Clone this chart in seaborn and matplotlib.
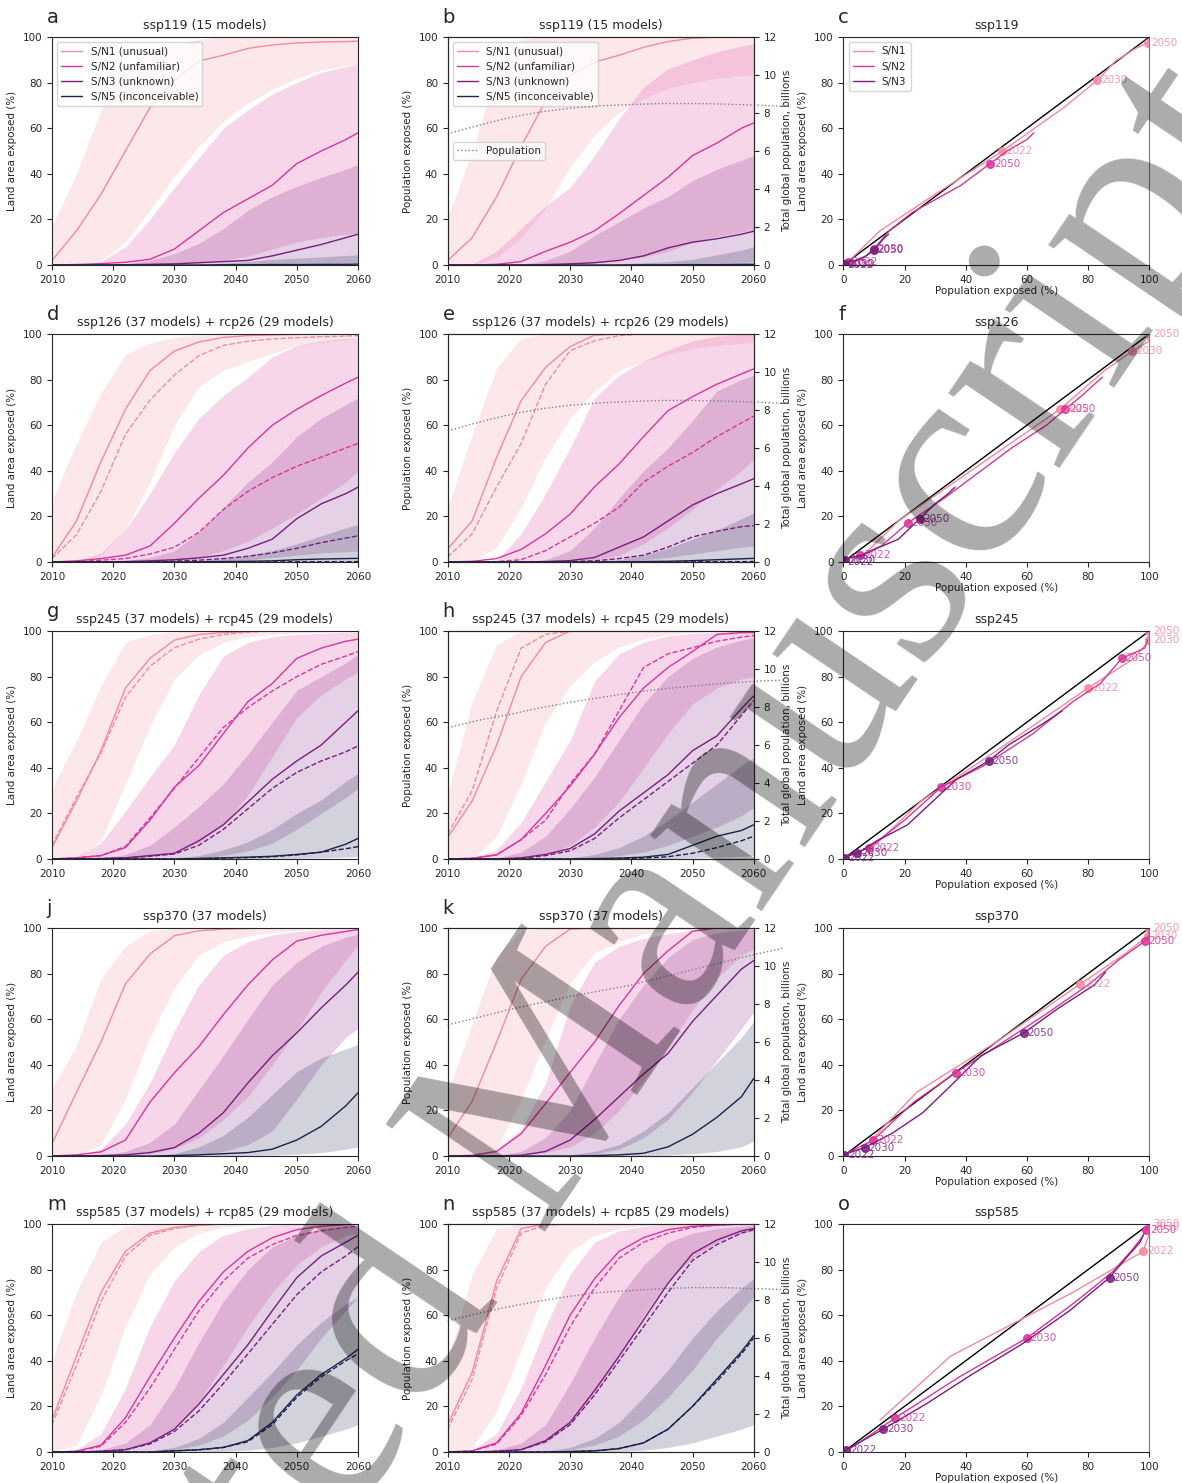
import numpy as np
import pandas as pd
import seaborn as sns
import matplotlib.pyplot as plt
from matplotlib.lines import Line2D

sns.set_style("ticks")
plt.rcParams["font.family"] = ["DejaVu Sans"]
plt.rcParams["font.size"] = 7.5
plt.rcParams["axes.titlesize"] = 9
plt.rcParams["axes.labelsize"] = 7.5
plt.rcParams["xtick.labelsize"] = 7.5
plt.rcParams["ytick.labelsize"] = 7.5
plt.rcParams["legend.fontsize"] = 7.5

years = [2010, 2014, 2018, 2022, 2026, 2030, 2034, 2038, 2042, 2046, 2050, 2054, 2058, 2060]
sn_names = ["S/N1 (unusual)", "S/N2 (unfamiliar)", "S/N3 (unknown)", "S/N5 (inconceivable)"]
sn_short = ["S/N1", "S/N2", "S/N3"]
sn_colors = ["#f4899f", "#d9359a", "#7a1c7f", "#1d1f4f"]
mark_years = [2022, 2030, 2050]

# total population (billions) per SSP
pop_years = [2010, 2015, 2020, 2025, 2030, 2035, 2040, 2045, 2050, 2055, 2060, 2065]
pop_ssp1 = [6.9, 7.35, 7.75, 8.05, 8.25, 8.38, 8.45, 8.5, 8.5, 8.47, 8.42, 8.35]
pop_ssp2 = [6.9, 7.3, 7.6, 7.95, 8.25, 8.5, 8.75, 8.95, 9.1, 9.25, 9.35, 9.42]
pop_ssp3 = [6.9, 7.3, 7.7, 8.05, 8.4, 8.7, 9.0, 9.4, 9.8, 10.2, 10.6, 10.95]
pop_ssp5 = [6.9, 7.3, 7.65, 7.95, 8.2, 8.4, 8.5, 8.6, 8.65, 8.65, 8.6, 8.55]

# ---- ssp119 ----
land_119_med = [[2, 15, 31, 50, 69, 81, 89.5, 92, 95, 96.5, 97.4, 97.8, 98, 98.2],
                [0, 0.2, 0.6, 1.2, 2.5, 7, 15, 23, 29, 35, 44.5, 50, 55, 58],
                [0, 0, 0, 0.1, 0.3, 0.5, 1, 1.5, 2, 4, 6.5, 9, 12, 13.5],
                [0, 0, 0, 0, 0, 0, 0, 0.1, 0.1, 0.2, 0.2, 0.3, 0.3, 0.4]]
land_119_lo = [[0, 0, 2, 10, 24, 39, 52, 63, 71, 77, 82, 85.5, 87.5, 88],
               [0, 0, 0, 0, 0, 0.3, 1, 2, 4, 7, 10, 12, 13.5, 14],
               [0, 0, 0, 0, 0, 0, 0, 0, 0.2, 0.5, 0.8, 1, 1, 1.2],
               [0, 0, 0, 0, 0, 0, 0, 0, 0, 0, 0, 0, 0, 0]]
land_119_hi = [[17, 40, 68, 87, 94, 97, 99, 100, 100, 100, 100, 100, 100, 100],
               [0, 0, 1.5, 8, 20, 34, 47, 60, 68, 75, 80, 84.5, 87, 88],
               [0, 0, 0, 0.5, 2, 5, 9.5, 16, 24, 30, 34.5, 38.5, 42, 44],
               [0, 0, 0, 0, 0, 0, 0.3, 0.8, 1.5, 2.5, 3, 3.5, 4.2, 4.5]]
pop_119_med = [[2, 12, 30, 52, 72, 83, 89, 92, 95.5, 98, 99.5, 100, 100, 100],
               [0, 0, 0.3, 1.5, 6, 10, 15, 22.5, 30.5, 38.5, 48, 53.5, 60, 62.3],
               [0, 0, 0, 0, 0.2, 0.5, 1, 2, 4, 7.5, 10, 11.5, 13.5, 14.8],
               [0, 0, 0, 0, 0, 0, 0, 0, 0.1, 0.1, 0.2, 0.2, 0.3, 0.3]]
pop_119_lo = [[0, 0, 3, 12, 25, 43, 57, 67, 73, 77.5, 80, 82, 83, 83],
              [0, 0, 0, 0, 0, 0.3, 1, 2, 3.5, 6, 10, 12.5, 14.5, 15.5],
              [0, 0, 0, 0, 0, 0, 0, 0, 0.2, 0.5, 0.8, 1, 1.2, 1.5],
              [0, 0, 0, 0, 0, 0, 0, 0, 0, 0, 0, 0, 0, 0]]
pop_119_hi = [[21, 50, 85, 99, 100, 100, 100, 100, 100, 100, 100, 100, 100, 100],
              [0, 0.5, 6, 16, 26, 34, 48, 64, 78, 86, 90, 93.5, 96, 97],
              [0, 0, 0, 0.3, 2, 6, 13, 19, 25, 30, 37, 42, 46, 48],
              [0, 0, 0, 0, 0, 0, 0.2, 0.5, 1, 1.5, 2.5, 4.5, 6.5, 8]]

# ---- ssp126 / rcp26 ----
land_126_med = [[2, 18, 44, 67, 84, 92.5, 96.5, 98.5, 99.3, 99.6, 99.8, 100, 100, 100],
                [0, 0.5, 1.5, 3, 7, 17, 28, 38, 50, 60, 67, 73, 78.5, 81],
                [0, 0, 0, 0.2, 0.5, 1, 1.8, 3, 6, 10, 19, 25.5, 30, 32.8],
                [0, 0, 0, 0, 0, 0, 0.1, 0.2, 0.3, 0.5, 1, 1.3, 1.5, 1.6]]
land_126_rcp = [[1.5, 12, 31, 56, 71, 82, 90.5, 95, 96.8, 97.8, 98.4, 98.8, 99.1, 99.3],
                [0, 0.2, 0.8, 1.5, 3.5, 6.5, 13, 23, 31, 37, 42, 46, 50, 52],
                [0, 0, 0, 0, 0.2, 0.4, 0.8, 1.5, 2.5, 4, 6, 8.5, 10.5, 11.5],
                [0, 0, 0, 0, 0, 0, 0, 0, 0, 0, 0.1, 0.1, 0.1, 0.2]]
land_126_lo = [[0, 0, 3, 14, 35, 60, 77, 84, 88, 91.5, 95, 96.5, 97.5, 98],
               [0, 0, 0, 0, 0, 0.5, 2, 5, 9, 15, 21, 28, 35, 40],
               [0, 0, 0, 0, 0, 0, 0, 0.5, 1, 2, 3, 4, 4.5, 4.8],
               [0, 0, 0, 0, 0, 0, 0, 0, 0, 0, 0, 0, 0, 0]]
land_126_hi = [[27, 52, 74, 91, 96, 98.5, 99.5, 100, 100, 100, 100, 100, 100, 100],
               [0, 0.5, 4, 14, 30, 48, 63, 73, 81, 90, 95, 97, 98, 98],
               [0, 0, 0, 0.5, 2, 5, 13, 24, 35, 44, 55, 63, 69, 72],
               [0, 0, 0, 0, 0, 0, 0.5, 1.5, 3, 5, 8, 11.5, 15, 16.5]]
pop_126_med = [[5.8, 18, 46, 70.8, 85.4, 94.5, 99.5, 100, 100, 100, 100, 100, 100, 100],
               [0, 0.3, 1.5, 5.5, 12.4, 21, 33, 43, 55, 66.4, 72.5, 78, 82.5, 84.7],
               [0, 0, 0, 0, 0.2, 0.6, 2, 6.5, 11, 18, 25, 30, 34.3, 36.5],
               [0, 0, 0, 0, 0, 0, 0, 0.1, 0.2, 0.3, 0.6, 1, 1.4, 1.6]]
pop_126_rcp = [[2.2, 12.4, 33, 52, 78, 92.7, 97, 99.3, 100, 100, 100, 100, 100, 100],
               [0, 0, 0.2, 1, 5, 11, 17, 24, 35, 42, 48, 55, 61, 64],
               [0, 0, 0, 0, 0, 0.2, 0.5, 1.5, 3, 6.5, 11, 13.5, 15.5, 16],
               [0, 0, 0, 0, 0, 0, 0, 0, 0, 0, 0.1, 0.1, 0.1, 0.2]]
pop_126_lo = [[0, 0, 6.5, 24, 46, 63, 75, 84, 88, 91, 93.5, 95, 96, 96.5],
              [0, 0, 0, 0, 0, 0, 1, 3, 8, 15, 23, 32, 40, 45],
              [0, 0, 0, 0, 0, 0, 0, 0.3, 1, 2, 3.5, 5, 6.5, 7],
              [0, 0, 0, 0, 0, 0, 0, 0, 0, 0, 0, 0, 0, 0]]
pop_126_hi = [[24, 56, 85, 98, 100, 100, 100, 100, 100, 100, 100, 100, 100, 100],
              [0, 0, 0.7, 12.4, 30, 50, 72, 82, 88, 93, 97, 99, 100, 100],
              [0, 0, 0, 0, 1, 5, 15, 28, 40, 50, 62, 75, 80, 82],
              [0, 0, 0, 0, 0, 0, 0.5, 1, 3, 6, 10, 14, 19, 21.5]]

# ---- ssp245 / rcp45 ----
land_245_med = [[5, 25.5, 47.4, 75, 88, 96, 98.5, 99.3, 99.7, 100, 100, 100, 100, 100],
                [0, 0.5, 1.5, 5, 17, 31.5, 41, 55, 69, 77, 88, 92.5, 95.5, 96.4],
                [0, 0, 0.2, 0.5, 1.5, 2.5, 8, 15, 25, 35, 43, 50, 60, 65],
                [0, 0, 0, 0, 0, 0, 0.2, 0.5, 0.8, 1.2, 2, 3, 6.5, 9]]
land_245_rcp = [[6, 27, 46.5, 71, 84.5, 92.7, 96.4, 98.5, 99.5, 100, 100, 100, 100, 100],
                [0, 0.5, 1.5, 5.5, 18, 31, 44.5, 57.7, 66.4, 73.7, 80, 85.4, 89, 91],
                [0, 0, 0.2, 0.5, 1.2, 2.2, 6, 13, 22, 31, 38, 43, 47, 49.6],
                [0, 0, 0, 0, 0, 0, 0.2, 0.4, 0.6, 1, 1.8, 3, 4.5, 5.4]]
land_245_lo = [[0, 0, 8, 33, 58, 79, 89.5, 95, 97.5, 98.5, 99, 99.5, 99.8, 100],
               [0, 0, 0, 0.3, 1, 3, 7, 15, 28, 45, 62, 72, 79, 82],
               [0, 0, 0, 0, 0, 0, 0.5, 1.5, 3.5, 7, 13, 20, 27, 31],
               [0, 0, 0, 0, 0, 0, 0, 0, 0, 0.2, 0.3, 0.5, 0.8, 1]]
land_245_hi = [[31, 52, 76, 95, 98.5, 99.5, 100, 100, 100, 100, 100, 100, 100, 100],
               [0, 1, 7, 21, 36, 50, 72, 89, 95, 97.5, 98.5, 99, 99.5, 99.5],
               [0, 0, 0.5, 2, 6, 14, 23, 33, 46, 60, 74, 80, 86, 89.8],
               [0, 0, 0, 0, 0, 0.5, 1.5, 4, 7.5, 13, 20, 26, 34, 37.5]]
pop_245_med = [[9.5, 25.5, 50, 80, 95, 100, 100, 100, 100, 100, 100, 100, 100, 100],
               [0, 0.3, 1.8, 8.5, 20, 32, 46, 62, 75, 84, 91, 98.5, 99.3, 99.3],
               [0, 0, 0, 0.5, 2, 4.6, 11, 21, 29, 37, 47.5, 54, 66, 71.5],
               [0, 0, 0, 0, 0, 0, 0.2, 0.4, 0.8, 2, 6, 10, 12.5, 15]]
pop_245_rcp = [[11, 30, 65, 92.5, 98.5, 100, 100, 100, 100, 100, 100, 100, 100, 100],
               [0, 0.3, 1.8, 8.5, 17, 33, 46, 65, 84, 90, 92.7, 95.5, 97.3, 98],
               [0, 0, 0, 0.3, 1.5, 3.6, 9, 18, 26, 34, 42, 50, 63, 69.5],
               [0, 0, 0, 0, 0, 0, 0.1, 0.2, 0.4, 1, 2.5, 5, 8, 10]]
pop_245_lo = [[0, 0, 10, 33, 60, 76, 86.5, 93, 96.5, 98.5, 99.5, 100, 100, 100],
              [0, 0, 0, 0.3, 2, 6, 14, 25, 40, 55, 68, 75, 79, 80],
              [0, 0, 0, 0, 0, 0, 0.5, 1.5, 3, 6, 10, 14, 19, 22.6],
              [0, 0, 0, 0, 0, 0, 0, 0, 0, 0.2, 0.5, 0.8, 1.2, 1.5]]
pop_245_hi = [[28.5, 69, 94, 100, 100, 100, 100, 100, 100, 100, 100, 100, 100, 100],
              [0, 0.5, 4, 16, 34, 52, 78, 90, 95, 98, 99, 99.5, 100, 100],
              [0, 0, 0.5, 3, 10, 22, 36, 52, 68, 80, 88, 93, 96, 97],
              [0, 0, 0, 0, 0, 0.5, 2, 5, 10, 17, 25, 33, 41, 44.5]]

# ---- ssp370 ----
land_370_med = [[5.4, 28, 50, 75.5, 88.6, 96.6, 98.8, 99.5, 99.8, 100, 100, 100, 100, 100],
                [0, 0.5, 1.8, 7, 23.6, 36.5, 48, 62, 75, 86, 94.3, 96.8, 98.5, 99.3],
                [0, 0, 0.2, 0.5, 1.5, 3.7, 10, 19, 32, 44, 54, 65, 75, 80.6],
                [0, 0, 0, 0, 0, 0.2, 0.5, 1, 1.5, 3, 7, 13, 22, 27.7]]
land_370_lo = [[0, 0, 5, 25, 52, 74, 88, 94, 96.5, 98, 99, 99.5, 100, 100],
               [0, 0, 0, 0.3, 1, 3, 8, 16, 26, 40, 55, 72, 86, 92.3],
               [0, 0, 0, 0, 0, 0, 0.5, 2, 5, 11, 25, 40, 52, 56],
               [0, 0, 0, 0, 0, 0, 0, 0, 0.2, 0.4, 0.8, 1.5, 3, 4]]
land_370_hi = [[29.5, 48.5, 77.6, 92, 98.8, 99.8, 100, 100, 100, 100, 100, 100, 100, 100],
               [0, 0.5, 3, 14, 32, 55, 75, 88, 94, 97, 98.5, 99.3, 99.7, 100],
               [0, 0, 0.3, 2, 6, 14, 29, 44, 60, 75, 85, 92, 96, 97.2],
               [0, 0, 0, 0, 0.2, 1, 4, 9, 17, 27, 37, 43, 47, 49]]
pop_370_med = [[8, 24, 50, 77.5, 92, 99.5, 100, 100, 100, 100, 100, 100, 100, 100],
               [0, 0.3, 2, 9.8, 23, 36.7, 50, 66, 80, 90, 98.6, 100, 100, 100],
               [0, 0, 0, 0.3, 2, 7, 16, 26, 36, 45, 59, 70.5, 82, 85.7],
               [0, 0, 0, 0, 0, 0, 0.2, 0.5, 1.2, 4, 9.5, 17, 26, 34]]
pop_370_lo = [[0, 0, 3, 25, 51, 76, 89, 94, 97.5, 99, 99.7, 100, 100, 100],
              [0, 0, 0, 0.3, 1.5, 4, 10, 20, 33, 48, 64, 78, 88, 90.8],
              [0, 0, 0, 0, 0, 0.3, 1, 3, 8, 16, 28, 42, 56, 63],
              [0, 0, 0, 0, 0, 0, 0, 0, 0.2, 0.5, 1, 2, 4, 6.6]]
pop_370_hi = [[28, 58, 88, 99, 100, 100, 100, 100, 100, 100, 100, 100, 100, 100],
              [0, 0.5, 3, 11.7, 32, 66, 85, 92, 95.5, 97.5, 99, 99.5, 100, 100],
              [0, 0, 0.3, 2, 8, 20, 40, 60, 75, 87, 95, 98, 99, 99.5],
              [0, 0, 0, 0, 0, 0.5, 2, 5, 11, 19, 30, 41, 52, 59]]

# ---- ssp585 / rcp85 ----
land_585_med = [[14, 42, 70, 88, 96, 98.5, 99.5, 100, 100, 100, 100, 100, 100, 100],
                [0, 0.3, 3, 15, 33, 50, 66, 79, 88, 94, 97.5, 99, 99.7, 100],
                [0, 0, 0.3, 1, 4, 10, 21, 34, 47, 62, 76.5, 86, 92, 95],
                [0, 0, 0, 0, 0, 0.5, 1, 2, 5, 13, 25, 34, 41, 45]]
land_585_rcp = [[12, 38, 66, 86, 95, 98, 99.5, 100, 100, 100, 100, 100, 100, 100],
                [0, 0.3, 2.5, 13, 28, 45, 62, 75, 85, 91, 95, 97, 98.5, 99],
                [0, 0, 0.3, 1, 3.5, 9, 18, 30, 43, 56, 69, 79, 86, 90],
                [0, 0, 0, 0, 0, 0.5, 1, 2, 4.5, 12, 24, 33, 40, 43]]
land_585_lo = [[0, 3, 25, 55, 78, 90, 96, 98.5, 99.5, 100, 100, 100, 100, 100],
               [0, 0, 0, 1, 4, 10, 22, 38, 55, 70, 82, 90, 95, 96],
               [0, 0, 0, 0, 0, 1, 3, 7, 14, 24, 36, 50, 62, 68],
               [0, 0, 0, 0, 0, 0, 0, 0.3, 0.8, 2, 4, 7, 10, 12]]
land_585_hi = [[40, 70, 92, 99, 100, 100, 100, 100, 100, 100, 100, 100, 100, 100],
               [0, 1, 8, 28, 55, 75, 88, 95, 98, 99.5, 100, 100, 100, 100],
               [0, 0, 1, 4, 12, 28, 48, 66, 80, 90, 95, 98, 99, 99.5],
               [0, 0, 0, 0, 0.5, 2, 6, 13, 24, 35, 47, 57, 65, 68]]
pop_585_med = [[12, 35, 75, 98, 100, 100, 100, 100, 100, 100, 100, 100, 100, 100],
               [0, 0.5, 4, 17, 38, 60, 76, 88, 94, 97.5, 99, 99.5, 100, 100],
               [0, 0, 0.3, 1, 5, 13, 27, 42, 58, 74, 87, 93, 97, 98],
               [0, 0, 0, 0, 0, 0.2, 0.5, 1.5, 4, 10, 20, 32, 44, 51]]
pop_585_rcp = [[10, 32, 72, 96, 99.5, 100, 100, 100, 100, 100, 100, 100, 100, 100],
               [0, 0.5, 3.5, 16, 34, 55, 72, 85, 92, 96, 98.5, 99.5, 100, 100],
               [0, 0, 0.3, 1, 4.5, 12, 25, 40, 55, 70, 84, 91, 96, 97.5],
               [0, 0, 0, 0, 0, 0.2, 0.5, 1.5, 4, 10, 20, 31, 43, 50]]
pop_585_lo = [[0, 2, 18, 45, 72, 88, 95, 98, 99.5, 100, 100, 100, 100, 100],
              [0, 0, 0, 1, 4, 12, 25, 42, 60, 75, 85, 92, 96, 97],
              [0, 0, 0, 0, 0, 1, 3, 7, 14, 24, 36, 50, 62, 68],
              [0, 0, 0, 0, 0, 0, 0, 0.3, 0.8, 2, 4, 7, 10, 12]]
pop_585_hi = [[40, 78, 98, 100, 100, 100, 100, 100, 100, 100, 100, 100, 100, 100],
              [0, 1, 8, 28, 55, 78, 92, 97, 99, 100, 100, 100, 100, 100],
              [0, 0, 1, 4, 12, 30, 50, 68, 82, 92, 96, 98, 99, 99.5],
              [0, 0, 0, 0, 0.5, 2, 6, 13, 24, 36, 50, 62, 72, 76]]

rows = [
    ("ssp119", "ssp119 (15 models)", land_119_med, None, land_119_lo, land_119_hi,
     pop_119_med, None, pop_119_lo, pop_119_hi, pop_ssp1, ("a", "b", "c")),
    ("ssp126", "ssp126 (37 models) + rcp26 (29 models)", land_126_med, land_126_rcp, land_126_lo, land_126_hi,
     pop_126_med, pop_126_rcp, pop_126_lo, pop_126_hi, pop_ssp1, ("d", "e", "f")),
    ("ssp245", "ssp245 (37 models) + rcp45 (29 models)", land_245_med, land_245_rcp, land_245_lo, land_245_hi,
     pop_245_med, pop_245_rcp, pop_245_lo, pop_245_hi, pop_ssp2, ("g", "h", "")),
    ("ssp370", "ssp370 (37 models)", land_370_med, None, land_370_lo, land_370_hi,
     pop_370_med, None, pop_370_lo, pop_370_hi, pop_ssp3, ("j", "k", "")),
    ("ssp585", "ssp585 (37 models) + rcp85 (29 models)", land_585_med, land_585_rcp, land_585_lo, land_585_hi,
     pop_585_med, pop_585_rcp, pop_585_lo, pop_585_hi, pop_ssp5, ("m", "n", "o")),
]

W, H = 1182, 1483
fig = plt.figure(figsize=(W / 100, H / 100), dpi=100)
row_tops = [37, 334, 631, 928, 1224]
col_left = [52, 447.7, 843.3]
ax_w, ax_h = 306, 228


def exposure_panel(ax, med, rcp, lo, hi):
    for k in range(4):
        ax.fill_between(years, lo[k], hi[k], color=sn_colors[k], alpha=0.2, lw=0)
    for k in range(4):
        sns.lineplot(x=years, y=med[k], color=sn_colors[k], lw=1, ax=ax)
        if rcp is not None:
            sns.lineplot(x=years, y=rcp[k], color=sn_colors[k], lw=1, ls="--", ax=ax)
    ax.set_xlim(2010, 2060)
    ax.set_ylim(0, 100)
    ax.set_xticks(range(2010, 2061, 10))
    ax.set_yticks(range(0, 101, 20))


def letter(ax, s):
    ax.text(-0.017, 1.06, s, transform=ax.transAxes, fontsize=14, ha="left", va="baseline")


sn_handles = [Line2D([], [], color=c, lw=1) for c in sn_colors]

for r, (ssp, title, l_med, l_rcp, l_lo, l_hi, p_med, p_rcp, p_lo, p_hi, p_tot, letters) in enumerate(rows):
    top = row_tops[r]
    axes = [fig.add_axes([x / W, 1 - (top + ax_h) / H, ax_w / W, ax_h / H]) for x in col_left]

    # land area exposed
    ax = axes[0]
    exposure_panel(ax, l_med, l_rcp, l_lo, l_hi)
    ax.set_title(title)
    ax.set_ylabel("Land area exposed (%)")
    letter(ax, letters[0])
    if r == 0:
        ax.legend(sn_handles, sn_names, loc="upper left")

    # population exposed
    ax = axes[1]
    exposure_panel(ax, p_med, p_rcp, p_lo, p_hi)
    ax.set_title(title)
    ax.set_ylabel("Population exposed (%)")
    letter(ax, letters[1])
    ax2 = ax.twinx()
    sns.lineplot(x=pop_years, y=p_tot, color="gray", lw=1, ls=":", ax=ax2, clip_on=False)
    ax2.set_ylim(0, 12)
    ax2.set_yticks(range(0, 13, 2))
    ax2.set_xlim(2010, 2060)
    ax2.set_ylabel("Total global population, billions")
    if r == 0:
        ax.legend(sn_handles, sn_names, loc="upper left")
        ax2.legend([Line2D([], [], color="gray", lw=1, ls=":")], ["Population"],
                   loc="center left", bbox_to_anchor=(0.0, 0.5))

    # land vs population
    ax = axes[2]
    ax.plot([0, 100], [0, 100], color="k", lw=1)
    for k in range(3):
        sns.lineplot(x=p_med[k], y=l_med[k], sort=False, estimator=None,
                     color=sn_colors[k], lw=1, ax=ax)
        for yr in mark_years:
            i = years.index(yr)
            ax.plot(p_med[k][i], l_med[k][i], "o", color=sn_colors[k], ms=5.5, alpha=0.85)
            ax.text(p_med[k][i] + 1.2, l_med[k][i], str(yr), color=sn_colors[k],
                    va="center", ha="left", fontsize=7.5, alpha=0.85)
    ax.set_xlim(0, 100)
    ax.set_ylim(0, 100)
    ax.set_xticks(range(0, 101, 20))
    ax.set_yticks(range(0, 101, 20))
    ax.spines["right"].set_color("#777777")
    ax.set_title(ssp)
    ax.set_xlabel("Population exposed (%)", labelpad=1)
    ax.set_ylabel("Land area exposed (%)")
    if letters[2]:
        letter(ax, letters[2])
    if r == 0:
        ax.legend(sn_handles[:3], sn_short, loc="upper left")

fig.text(0.445, 0.235, "Accepted Manuscript", fontsize=210, family="Liberation Serif",
         color="k", alpha=0.33, rotation=56, rotation_mode="anchor",
         ha="center", va="center", zorder=100)

fig.savefig("out.png", dpi=100)
